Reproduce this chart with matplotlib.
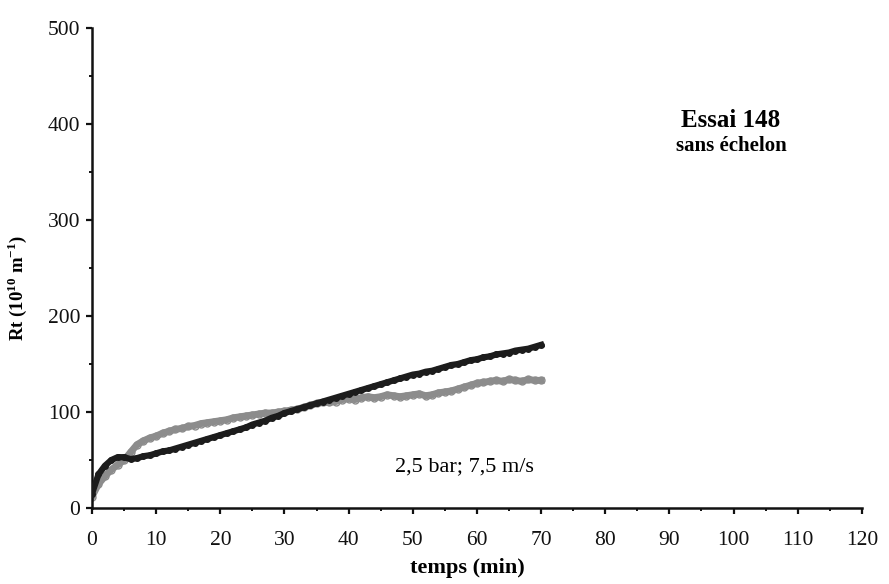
import matplotlib
matplotlib.use('Agg')
import matplotlib.pyplot as plt
from matplotlib.ticker import MultipleLocator

# Données (Essai 148, 2,5 bar; 7,5 m/s)
temps = list(range(0, 71))
rt_noir = [15, 35, 44, 50, 53, 53, 51, 52, 54, 55,
           57, 59, 60, 62, 64, 66, 68, 70, 72, 74,
           76, 78, 80, 82, 84, 87, 89, 91, 94, 96,
           99, 101, 103, 105, 107, 109, 111, 113, 115, 117,
           119, 121, 123, 125, 127, 129, 131, 133, 135, 137,
           139, 140, 142, 143, 145, 147, 149, 150, 152, 154,
           155, 157, 158, 160, 161, 162, 164, 165, 166, 168,
           170]
rt_gris = [12, 25, 33, 40, 45, 50, 58, 66, 70, 73,
           75, 78, 80, 82, 83, 85, 86, 88, 89, 90,
           91, 92, 94, 95, 96, 97, 98, 99, 99, 100,
           101, 102, 103, 105, 107, 109, 110, 110, 111, 113,
           114, 113, 115, 116, 115, 116, 118, 117, 116, 117,
           118, 119, 117, 118, 120, 121, 122, 124, 126, 128,
           130, 131, 132, 133, 132, 134, 133, 132, 134, 133,
           133]

plt.rcParams['font.family'] = ['Liberation Serif', 'DejaVu Serif']
plt.rcParams['mathtext.fontset'] = 'custom'
plt.rcParams['mathtext.rm'] = 'Liberation Serif:bold'
plt.rcParams['mathtext.bf'] = 'Liberation Serif:bold'

fig = plt.figure(figsize=(8.89, 5.84), dpi=100)
ax = fig.add_axes([0.1035, 0.130, 0.866, 0.822])

ax.plot(temps, rt_gris, color='#8c8c8c', lw=5, marker='o', ms=5,
        mfc='none', mec='#8c8c8c', mew=1.0, zorder=2)
ax.plot(temps, rt_noir, color='#1c1c1c', lw=4.5, marker='o', ms=4,
        mfc='#1c1c1c', mec='#1c1c1c', zorder=3)

ax.set_xlim(0, 120)
ax.set_ylim(0, 500)
ax.xaxis.set_major_locator(MultipleLocator(10))
ax.xaxis.set_minor_locator(MultipleLocator(5))
ax.yaxis.set_major_locator(MultipleLocator(100))
ax.yaxis.set_minor_locator(MultipleLocator(50))

for s in ['top', 'right']:
    ax.spines[s].set_visible(False)
for s in ['left', 'bottom']:
    ax.spines[s].set_linewidth(1.8)
    ax.spines[s].set_color('#111111')

ax.tick_params(axis='x', which='major', direction='out', length=4.5, width=1.6,
               labelsize=15.5, colors='#111111', pad=12)
ax.tick_params(axis='y', which='major', direction='out', length=4.5, width=1.6,
               labelsize=15.5, colors='#111111', pad=4)
ax.tick_params(which='minor', direction='out', length=2.5, width=1.4,
               colors='#111111')

ax.set_xlabel('temps (min)', fontsize=16, fontweight='bold')
ax.xaxis.set_label_coords(0.487, -0.104)
ax.set_ylabel('Rt (10$^{10}$ m$^{-1}$)', fontsize=13.5, fontweight='bold')
ax.yaxis.set_label_coords(-0.082, 0.458)

ax.text(99.6, 404, 'Essai 148', fontsize=18, fontweight='bold',
        ha='center', va='center')
ax.text(99.6, 377, 'sans échelon', fontsize=15, fontweight='bold',
        ha='center', va='center')
ax.text(58.1, 43, '2,5 bar; 7,5 m/s', fontsize=16,
        ha='center', va='center')

fig.savefig('out.png', dpi=100)
